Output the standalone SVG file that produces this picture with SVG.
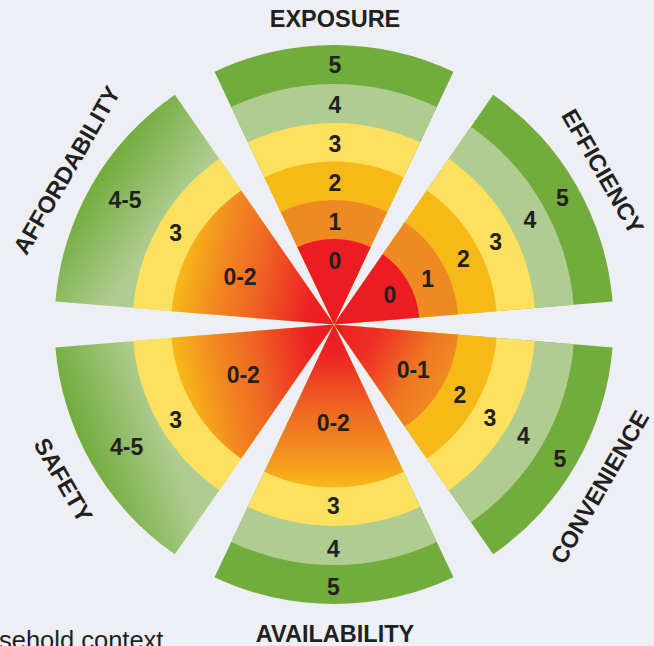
<svg xmlns="http://www.w3.org/2000/svg" xmlns:xlink="http://www.w3.org/1999/xlink" width="654" height="646" viewBox="0 0 654 646">
<defs>
<style>
.t{font-family:"Liberation Sans",Arial,Helvetica,sans-serif;font-weight:bold;fill:#231F20}
.n{font-size:23px;text-anchor:middle}
.h{font-size:23.5px;text-anchor:middle}
.b0{fill:#ED1C24}.b1{fill:#EF8A22}.b2{fill:#F6B918}.b3{fill:#FDE05D}.b4{fill:#B0CD91}.b5{fill:#72AC3D}
</style>
<path id="w0" d="M0,0L-36.54,-77.30A85.5,85.5 0 0 1 36.54,-77.30Z"/>
<path id="w1" d="M0,0L-53.21,-112.56A124.5,124.5 0 0 1 53.21,-112.56Z"/>
<path id="w2" d="M0,0L-69.67,-147.37A163,163 0 0 1 69.67,-147.37Z"/>
<path id="w3" d="M0,0L-86.12,-182.18A201.5,201.5 0 0 1 86.12,-182.18Z"/>
<path id="w4" d="M0,0L-102.79,-217.44A240.5,240.5 0 0 1 102.79,-217.44Z"/>
<path id="w5" d="M0,0L-119.46,-252.70A279.5,279.5 0 0 1 119.46,-252.70Z"/>
<linearGradient id="g02a" gradientUnits="userSpaceOnUse" x1="0" y1="0" x2="0" y2="-163">
<stop offset="0" stop-color="#ED1C24"/><stop offset="0.18" stop-color="#ED2224"/><stop offset="0.5" stop-color="#EF6323"/><stop offset="0.75" stop-color="#F28A20"/><stop offset="1" stop-color="#F7B918"/>
</linearGradient>
<linearGradient id="g02s" href="#g02a" xlink:href="#g02a" gradientUnits="userSpaceOnUse" x1="0" y1="0" x2="50.4" y2="-155"/>
<linearGradient id="g02f" href="#g02a" xlink:href="#g02a" gradientUnits="userSpaceOnUse" x1="0" y1="0" x2="-50.4" y2="-155"/>
<linearGradient id="g01" gradientUnits="userSpaceOnUse" x1="0" y1="0" x2="0" y2="-124.5">
<stop offset="0" stop-color="#ED1C24"/><stop offset="0.35" stop-color="#EE3025"/><stop offset="0.75" stop-color="#EF7722"/><stop offset="1" stop-color="#EF8B21"/>
</linearGradient>
<linearGradient id="g45s" gradientUnits="userSpaceOnUse" x1="33.9" y1="-192" x2="48.3" y2="-273.8">
<stop offset="0" stop-color="#B0CD91"/><stop offset="1" stop-color="#72AC3D"/>
</linearGradient>
<linearGradient id="g45a" href="#g45s" xlink:href="#g45s" gradientUnits="userSpaceOnUse" x1="17" y1="-194.3" x2="24.2" y2="-276.9"/>
</defs>
<rect width="654" height="646" fill="#EEEFF4"/>

<g id="exposure" transform="translate(334,324.5)">
<use href="#w5" xlink:href="#w5" class="b5"/><use href="#w4" xlink:href="#w4" class="b4"/><use href="#w3" xlink:href="#w3" class="b3"/><use href="#w2" xlink:href="#w2" class="b2"/><use href="#w1" xlink:href="#w1" class="b1"/><use href="#w0" xlink:href="#w0" class="b0"/>
</g>
<g id="efficiency" transform="translate(334,324.5) rotate(60)">
<use href="#w5" xlink:href="#w5" class="b5"/><use href="#w4" xlink:href="#w4" class="b4"/><use href="#w3" xlink:href="#w3" class="b3"/><use href="#w2" xlink:href="#w2" class="b2"/><use href="#w1" xlink:href="#w1" class="b1"/><use href="#w0" xlink:href="#w0" class="b0"/>
</g>
<g id="convenience" transform="translate(334,324.5) rotate(120)">
<use href="#w5" xlink:href="#w5" class="b5"/><use href="#w4" xlink:href="#w4" class="b4"/><use href="#w3" xlink:href="#w3" class="b3"/><use href="#w2" xlink:href="#w2" class="b2"/><use href="#w1" xlink:href="#w1" style="fill:url(#g01)"/>
</g>
<g id="availability" transform="translate(334,324.5) rotate(180)">
<use href="#w5" xlink:href="#w5" class="b5"/><use href="#w4" xlink:href="#w4" class="b4"/><use href="#w3" xlink:href="#w3" class="b3"/><use href="#w2" xlink:href="#w2" style="fill:url(#g02a)"/>
</g>
<g id="safety" transform="translate(334,324.5) rotate(240)">
<use href="#w5" xlink:href="#w5" style="fill:url(#g45s)"/><use href="#w3" xlink:href="#w3" class="b3"/><use href="#w2" xlink:href="#w2" style="fill:url(#g02s)"/>
</g>
<g id="affordability" transform="translate(334,324.5) rotate(300)">
<use href="#w5" xlink:href="#w5" style="fill:url(#g45a)"/><use href="#w3" xlink:href="#w3" class="b3"/><use href="#w2" xlink:href="#w2" style="fill:url(#g02f)"/>
</g>

<g id="numbers" class="t n">
<text x="335" y="73">5</text><text x="335" y="113">4</text><text x="335" y="152">3</text><text x="335" y="191">2</text><text x="335" y="230">1</text><text x="335" y="269">0</text>
<text x="390" y="303">0</text><text x="427.7" y="287.3">1</text><text x="463.3" y="267.3">2</text><text x="495.7" y="249.7">3</text><text x="530" y="228">4</text><text x="562.3" y="206.3">5</text>
<text x="413.3" y="378">0-1</text><text x="460" y="403">2</text><text x="490" y="426.3">3</text><text x="523.3" y="444">4</text><text x="560" y="467.3">5</text>
<text x="333.3" y="431.3">0-2</text><text x="333.3" y="513.7">3</text><text x="333.3" y="557.3">4</text><text x="333.3" y="594.7">5</text>
<text x="243.3" y="383">0-2</text><text x="175.7" y="428">3</text><text x="126.7" y="454.7">4-5</text>
<text x="240" y="284.7">0-2</text><text x="175.7" y="240.7">3</text><text x="125" y="208">4-5</text>
</g>

<g id="titles" class="t h">
<text x="335" y="27">EXPOSURE</text>
<text x="335" y="642">AVAILABILITY</text>
<text transform="translate(603,171.5) rotate(60)" y="8.4">EFFICIENCY</text>
<text transform="translate(599.5,487) rotate(-60)" y="8.4">CONVENIENCE</text>
<text transform="translate(63.5,480) rotate(60)" y="8.4">SAFETY</text>
<text transform="translate(66.5,170) rotate(-60)" y="8.4">AFFORDABILITY</text>
</g>

<text x="-1" y="649" style="font-family:'Liberation Sans',Arial,sans-serif;font-size:25.5px;fill:#231F20">sehold context</text>
</svg>
